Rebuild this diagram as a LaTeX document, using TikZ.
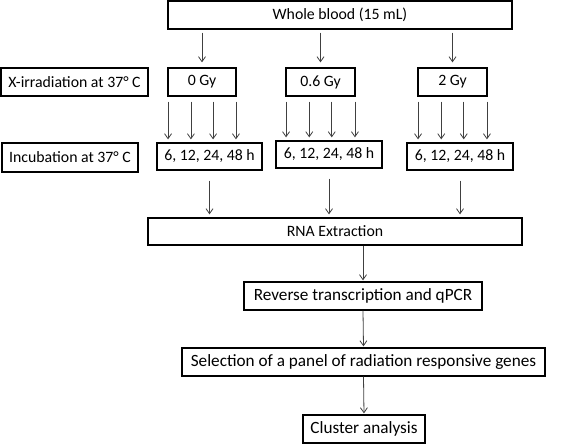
\documentclass[tikz,border=0pt]{standalone}
\usepackage{fontspec}
\setmainfont{Carlito}
\usetikzlibrary{arrows.meta,calc}
\begin{document}
\begin{tikzpicture}[x=1pt,y=-1pt,
  box/.style={draw=black,line width=1.3pt,inner sep=0pt,minimum height=28pt,
    font=\fontsize{15.8}{18}\selectfont},
  bigbox/.style={box,font=\fontsize{17.2}{19}\selectfont},
  arr/.style={draw=black!75,line width=0.8pt,-{Straight Barb[length=5pt,width=7pt]}}]
\useasboundingbox (0,0) rectangle (567,444);
\node[box,minimum width=344pt] (wb) at (340,15) {Whole blood (15 mL)};
\node[box,minimum width=147pt] (xir) at (74.5,82) {X-irradiation at 37° C};
\node[box,minimum width=68pt] (g0) at (202,82) {0 Gy};
\node[box,minimum width=69pt] (g1) at (320.5,82) {0.6 Gy};
\node[box,minimum width=69pt] (g2) at (452.5,82) {2 Gy};
\node[box,minimum width=136pt,minimum height=29pt] (inc) at (70,157.5) {Incubation at 37° C};
\node[box,minimum width=105pt,minimum height=27pt] (i0) at (209.5,156.5) {6, 12, 24, 48 h};
\node[box,minimum width=106pt,minimum height=27pt] (i1) at (329,154.5) {6, 12, 24, 48 h};
\node[box,minimum width=106pt,minimum height=27pt] (i2) at (460,156.5) {6, 12, 24, 48 h};
\node[box,minimum width=374pt,minimum height=27pt] (rna) at (335,231.5) {RNA Extraction};
\node[bigbox,minimum width=238pt] (rev) at (363,296) {Reverse transcription and qPCR};
\node[bigbox,minimum width=363pt] (sel) at (363.5,362) {Selection of a panel of radiation responsive genes};
\node[bigbox,minimum width=122pt] (clu) at (364,429) {Cluster analysis};
% whole blood to doses
\foreach \g in {g0,g1,g2}
  \draw[arr,shorten <=3pt,shorten >=5pt] (wb.south -| \g.north) -- (\g.north);
% doses to incubation
\foreach \g/\i in {g0/i0,g1/i1,g2/i2}{
  \foreach \f in {0.01,0.34,0.66,0.99}{
    \coordinate (s) at ($(\g.south west)!\f!(\g.south east)$);
    \draw[arr,shorten <=5pt,shorten >=3pt] (s) -- (s |- \i.north);
  }
}
% incubation to RNA
\foreach \i in {i0,i1,i2}
  \draw[arr,shorten <=10pt,shorten >=3pt] (\i.south) -- (\i.south |- rna.north);
\draw[arr,shorten >=1pt] (rev.north |- rna.south) -- (rev.north);
\draw[arr,shorten >=1pt] (rev.south) -- (sel.north);
\draw[arr,shorten >=1pt] (sel.south) -- (clu.north);
\end{tikzpicture}
\end{document}
